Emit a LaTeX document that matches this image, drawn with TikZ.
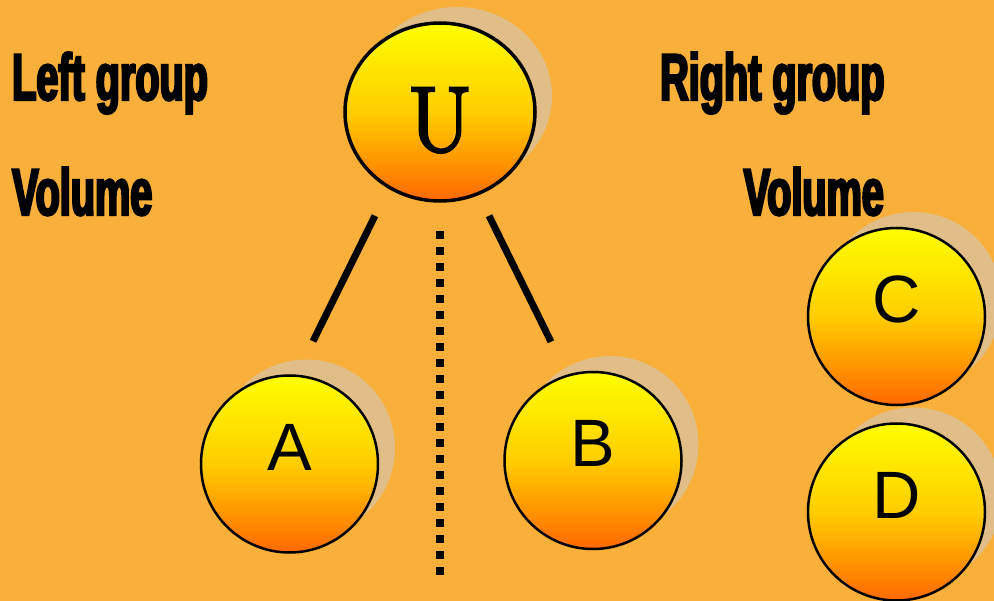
\documentclass[tikz,border=0pt]{standalone}
\usepackage{fontspec}
\usetikzlibrary{positioning, shapes.geometric, shadows}
\newfontfamily\headfont{Liberation Sans Bold}[FakeStretch=0.6,FakeBold=3.5]
\newfontfamily\letterfont{Liberation Sans}
\newfontfamily\serifletter{Latin Modern Roman}[FakeBold=3.5]
\definecolor{amber}{RGB}{249,176,58}
\definecolor{shadowtan}{RGB}{225,190,135}
\definecolor{sunyellow}{RGB}{255,255,0}
\definecolor{sungold}{RGB}{255,205,0}
\definecolor{sunorange}{RGB}{255,104,0}

\begin{document}
\begin{tikzpicture}[
  x=1bp, y=-1bp,
  ball/.style={
    circle,
    draw=black,
    line width=2.5bp,
    minimum size=177bp,
    inner sep=0pt,
    top color=sunyellow,
    bottom color=sunorange,
    middle color=sungold,
    drop shadow={shadow xshift=17bp, shadow yshift=16bp, fill=shadowtan, opacity=1},
    font=\letterfont\fontsize{67bp}{67bp}\selectfont,
    text depth=34bp
  },
  heading/.style={
    anchor=base west,
    inner sep=0pt,
    font=\headfont\fontsize{66bp}{66bp}\selectfont
  },
  link/.style={line width=7bp},
  divider/.style={line width=8bp, dash pattern=on 8bp off 8bp}
]

\useasboundingbox (0,0) rectangle (994,601);
\fill[amber] (0,0) rectangle (994,601);

\node[ball, ellipse, minimum width=190bp, minimum height=178bp, line width=3.5bp,
  font=\serifletter\fontsize{92bp}{92bp}\selectfont, text height=78bp, text depth=0pt] (U) at (440,112) {U};
\node[ball] (A) at (289.5,464) {A};
\node[ball] (B) at (593,460.5) {B};
\node[ball] (C) at (896.5,316.5) {C};
\node[ball] (D) at (896.5,512) {D};

\node[heading] (leftgroup) at (12,100) {Left group};
\node[heading] (leftvolume) at (12,215) {Volume};
\node[heading] (rightgroup) at (660,100) {Right group};
\node[heading, anchor=base east] (rightvolume) at (884,215) {Volume};

\draw[link] ([shift={(-65,13)}]U.south) -- ([shift={(23.5,-33)}]A.north);
\draw[link] ([shift={(49,13)}]U.south) -- ([shift={(-42,-29)}]B.north);

\coordinate (dividertop) at (440,231);
\coordinate (dividerbottom) at (440,575);
\draw[divider] (dividertop) -- (dividerbottom);

\end{tikzpicture}
\end{document}
